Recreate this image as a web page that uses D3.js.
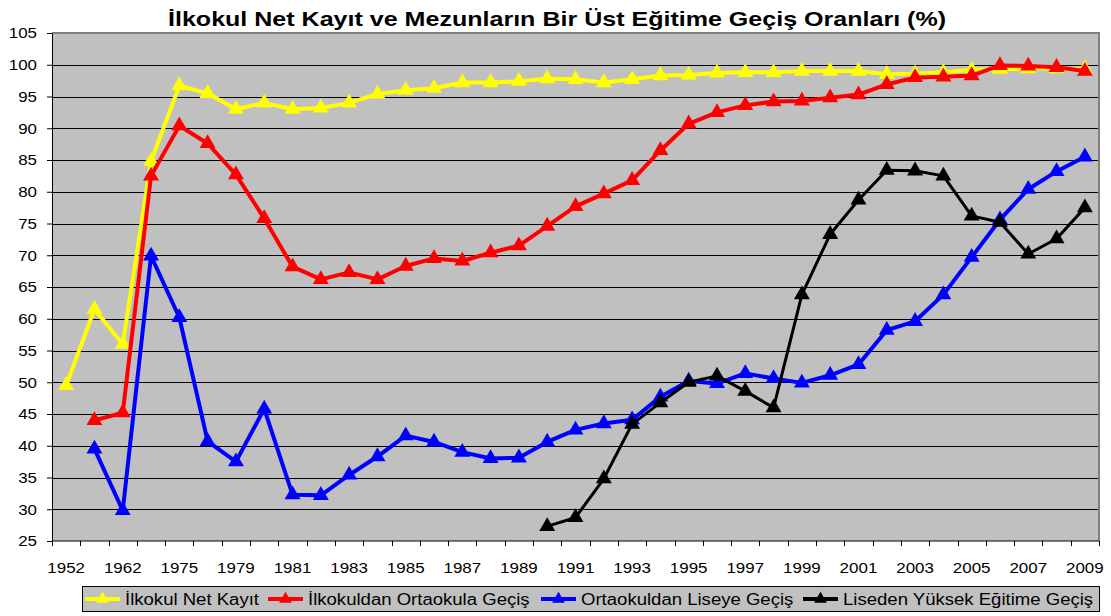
<!DOCTYPE html>
<html>
<head>
<meta charset="utf-8">
<script src="https://cdn.jsdelivr.net/npm/d3@7"></script>
<style>
  body { margin: 0; background: #fff; }
  svg text { font-family: "Liberation Sans", Arial, sans-serif; fill: #000; }
</style>
</head>
<body>
<svg id="chart" width="1111" height="616"></svg>
<script>
// years (hidden ones between labelled ticks are guesses)
const years = ['1952','1957','1962','1970','1975','1977','1979','1980','1981','1982','1983','1984','1985','1986','1987','1988','1989','1990','1991','1992','1993','1994','1995','1996','1997','1998','1999','2000','2001','2002','2003','2004','2005','2006','2007','2008','2009'];

const netKayit = [49.5,61.5,56.0,84.8,96.7,95.5,93.0,94.0,93.0,93.2,94.0,95.4,96.0,96.3,97.2,97.2,97.4,97.8,97.7,97.2,97.7,98.3,98.4,98.7,98.8,98.8,99.0,99.0,99.0,98.5,98.6,98.8,99.2,99.3,99.4,99.4,99.3];
const ilkOrta = [null,44.0,45.2,82.5,90.4,87.6,82.7,75.8,68.2,66.2,67.3,66.2,68.3,69.5,69.1,70.4,71.5,74.6,77.7,79.7,81.8,86.5,90.7,92.5,93.6,94.2,94.3,94.8,95.3,96.9,98.0,98.1,98.3,99.9,99.8,99.6,99.0];
const ortaLise = [null,39.5,29.8,69.9,60.2,40.7,37.5,45.8,32.3,32.2,35.4,38.3,41.6,40.6,39.0,38.0,38.1,40.6,42.5,43.5,44.1,47.7,50.2,49.8,51.4,50.6,49.9,51.1,52.8,58.2,59.6,63.8,69.7,75.6,80.4,83.2,85.5];
const liseYuksek = [null,null,null,null,null,null,null,null,null,null,null,null,null,null,null,null,null,27.3,28.7,34.8,43.4,46.8,50.0,51.0,48.6,46.0,63.8,73.3,78.7,83.4,83.3,82.5,76.2,75.2,70.2,72.6,77.5];

const seriesNames = ['İlkokul Net Kayıt','İlkokuldan Ortaokula Geçiş','Ortaokuldan Liseye Geçiş','Liseden Yüksek Eğitime Geçiş'];
const seriesColors = ['#ffff00','#ff0000','#0000ff','#000000'];
const seriesData = [netKayit, ilkOrta, ortaLise, liseYuksek];
const yTicks = d3.range(25, 106, 5);
const title = 'İlkokul Net Kayıt ve Mezunların Bir Üst Eğitime Geçiş Oranları (%)';

const svg = d3.select('#chart');
const pLeft = 52, pRight = 1099, pTop = 33, pBottom = 541;
const stretch = 1.13;

const x = d3.scaleBand().domain(years).range([pLeft, pRight]).padding(0);
const y = d3.scaleLinear().domain([25, 105]).range([pBottom, pTop]);
const cx = (i) => x(years[i]) + x.bandwidth() / 2;

// title
svg.append('text')
  .attr('x', 557).attr('y', 26)
  .attr('text-anchor', 'middle')
  .attr('font-size', 21).attr('font-weight', 'bold')
  .attr('textLength', 778).attr('lengthAdjust', 'spacingAndGlyphs')
  .text(title);

// plot area
svg.append('rect')
  .attr('x', pLeft).attr('y', pTop)
  .attr('width', pRight - pLeft).attr('height', pBottom - pTop)
  .attr('fill', '#c0c0c0');

// grid lines
svg.append('g').selectAll('line')
  .data(yTicks.filter(d => d > 25 && d < 105))
  .join('line')
  .attr('x1', pLeft).attr('x2', pRight)
  .attr('y1', d => Math.round(y(d)) + 0.5).attr('y2', d => Math.round(y(d)) + 0.5)
  .attr('stroke', '#000').attr('stroke-width', 1);

// plot border top/right
svg.append('path')
  .attr('d', `M${pLeft},${pTop}H${pRight}V${pBottom}`)
  .attr('fill', 'none').attr('stroke', '#808080').attr('stroke-width', 2);

// y axis
const yAxis = svg.append('g')
  .attr('transform', `translate(${pLeft},0)`)
  .call(d3.axisLeft(y).tickValues(yTicks).tickSize(5).tickSizeOuter(0));
yAxis.select('.domain').attr('stroke', '#000');
yAxis.selectAll('.tick text')
  .attr('x', 0)
  .attr('font-size', 15)
  .attr('transform', `translate(-15,0) scale(${stretch},1)`);

// x axis: labels every other category, ticks on band edges
const xAxis = svg.append('g')
  .attr('transform', `translate(0,${pBottom})`)
  .call(d3.axisBottom(x).tickValues(years.filter((d, i) => i % 2 === 0)).tickSize(0).tickPadding(21));
xAxis.select('.domain').remove();
xAxis.selectAll('.tick text')
  .attr('font-size', 15)
  .attr('transform', `scale(${stretch},1)`);
svg.append('line')
  .attr('x1', pLeft).attr('x2', pRight).attr('y1', pBottom).attr('y2', pBottom)
  .attr('stroke', '#000');
svg.append('g').selectAll('line')
  .data(years.map(d => x(d)).concat([x.range()[1]]))
  .join('line')
  .attr('x1', d => Math.round(d) + 0.5).attr('x2', d => Math.round(d) + 0.5)
  .attr('y1', pBottom).attr('y2', pBottom + 5)
  .attr('stroke', '#000');

// series
const line = d3.line()
  .defined(d => d != null)
  .x((d, i) => cx(i))
  .y(d => y(d));
const tri = d3.symbol().type(d3.symbolTriangle).size(110);

seriesData.forEach((vals, s) => {
  const g = svg.append('g');
  g.append('path')
    .attr('d', line(vals))
    .attr('fill', 'none')
    .attr('stroke', seriesColors[s])
    .attr('stroke-width', s === 3 ? 3 : 4)
    .attr('stroke-linejoin', 'round');
  g.selectAll('path.m')
    .data(vals.map((v, i) => [i, v]).filter(d => d[1] != null))
    .join('path')
    .attr('class', 'm')
    .attr('d', tri)
    .attr('transform', d => `translate(${cx(d[0])},${y(d[1])})`)
    .attr('fill', seriesColors[s]);
});

// legend
const legX = [85, 268, 541, 803];
const leg = svg.append('g');
leg.append('rect')
  .attr('x', 82.5).attr('y', 586.5).attr('width', 1017).attr('height', 25)
  .attr('fill', '#c0c0c0').attr('stroke', '#000');
seriesNames.forEach((name, s) => {
  const lx = legX[s];
  leg.append('line')
    .attr('x1', lx).attr('x2', lx + 35).attr('y1', 599).attr('y2', 599)
    .attr('stroke', seriesColors[s]).attr('stroke-width', 4);
  leg.append('path')
    .attr('d', d3.symbol().type(d3.symbolTriangle).size(70)())
    .attr('transform', `translate(${lx + 17.5},599)`)
    .attr('fill', seriesColors[s]);
  leg.append('text')
    .attr('x', 0).attr('y', 0)
    .attr('font-size', 16)
    .attr('transform', `translate(${lx + 40},605) scale(1.16,1)`)
    .text(name);
});
</script>
</body>
</html>
